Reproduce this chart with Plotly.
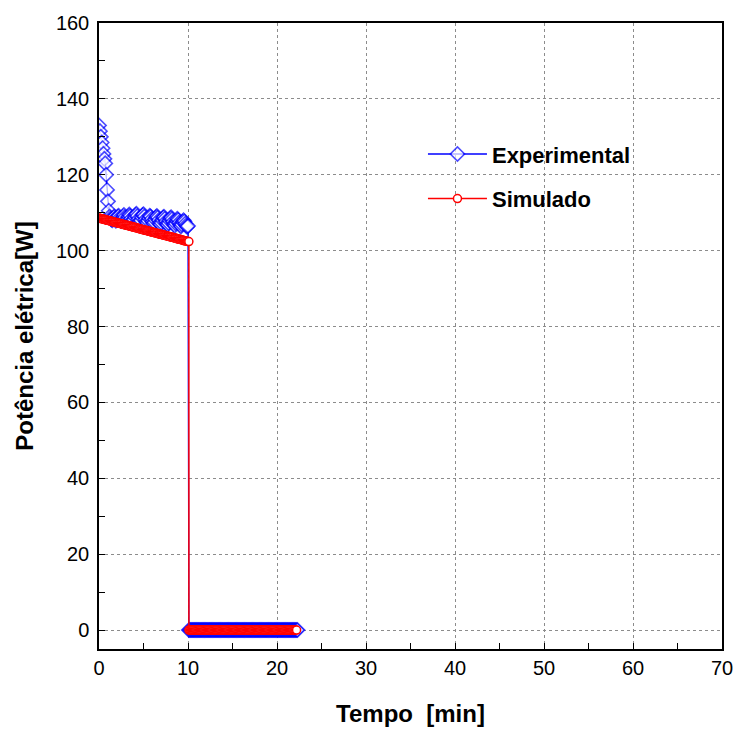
import plotly.graph_objects as go

# ---------------- data ----------------
# Experimental: initial decay (t = 0.0 .. 1.2, step 0.1)
exp_decay = [133.0, 131.5, 130.0, 128.5, 127.0, 125.5, 124.2, 123.0, 120.0,
             116.0, 113.0, 110.5, 109.0]
# Experimental: plateau (t = 1.3 .. 10.0, step 0.1)
exp_plateau = [108.5, 108.2, 108.0, 108.6, 109.0, 108.4, 107.9, 108.3, 108.9, 109.2,
               108.6, 108.0, 107.8, 108.4, 109.0, 109.4, 108.8, 108.1, 107.7, 108.3,
               109.0, 109.5, 109.1, 108.4, 107.8, 107.5, 108.2, 108.9, 109.4, 109.7,
               109.1, 108.3, 107.7, 107.4, 108.0, 108.8, 109.4, 109.6, 109.0, 108.2,
               107.6, 107.3, 107.9, 108.6, 109.2, 109.0, 108.3, 107.6, 107.1, 107.5,
               108.2, 108.8, 109.1, 108.7, 108.0, 107.3, 106.9, 107.4, 108.1, 108.7,
               108.9, 108.4, 107.7, 107.1, 106.8, 107.3, 108.0, 108.5, 108.8, 108.3,
               107.6, 107.0, 106.6, 107.2, 107.9, 108.4, 108.1, 107.4, 106.8, 106.4,
               106.9, 107.6, 108.0, 107.7, 107.1, 106.6, 106.3, 106.5]
# transition sample during switch-off (drawn as line only)
exp_transition_t = 10.05
exp_transition_y = 54.0
exp_off_start = 10.1   # heater switched off
exp_off_end = 22.3

# Simulated: t = 0.0 .. 10.1, step 0.1
sim_on = [108.6, 108.5, 108.5, 108.4, 108.4, 108.3, 108.2, 108.2, 108.1, 108.0,
          108.0, 107.9, 107.9, 107.8, 107.7, 107.7, 107.6, 107.5, 107.5, 107.4,
          107.4, 107.3, 107.2, 107.2, 107.1, 107.1, 107.0, 106.9, 106.9, 106.8,
          106.7, 106.7, 106.6, 106.6, 106.5, 106.4, 106.4, 106.3, 106.2, 106.2,
          106.1, 106.1, 106.0, 105.9, 105.9, 105.8, 105.7, 105.7, 105.6, 105.6,
          105.5, 105.4, 105.4, 105.3, 105.3, 105.2, 105.1, 105.1, 105.0, 104.9,
          104.9, 104.8, 104.8, 104.7, 104.6, 104.6, 104.5, 104.4, 104.4, 104.3,
          104.3, 104.2, 104.1, 104.1, 104.0, 104.0, 103.9, 103.8, 103.8, 103.7,
          103.6, 103.6, 103.5, 103.5, 103.4, 103.3, 103.3, 103.2, 103.1, 103.1,
          103.0, 103.0, 102.9, 102.8, 102.8, 102.7, 102.6, 102.6, 102.5, 102.5,
          102.4, 102.4]
sim_off_start = 10.1
sim_off_end = 22.2

x_ticks = [0, 10, 20, 30, 40, 50, 60, 70]
y_ticks = [0, 20, 40, 60, 80, 100, 120, 140, 160]

# ---------------- build series ----------------
exp_on = exp_decay + exp_plateau
exp_t = [round(i * 0.1, 1) for i in range(len(exp_on))]
exp_sizes = [11] * len(exp_on)
exp_t.append(exp_transition_t)
exp_y = exp_on + [exp_transition_y]
exp_sizes.append(0)
n_exp_off = int(round((exp_off_end - exp_off_start) / 0.1)) + 1
exp_t += [round(exp_off_start + i * 0.1, 1) for i in range(n_exp_off)]
exp_y += [0.0] * n_exp_off
exp_sizes += [11] * n_exp_off

sim_t = [round(i * 0.1, 1) for i in range(len(sim_on))]
n_sim_off = int(round((sim_off_end - sim_off_start) / 0.1)) + 1
sim_t += [round(sim_off_start + i * 0.1, 1) for i in range(n_sim_off)]
sim_y = sim_on + [0.0] * n_sim_off

fig = go.Figure()
fig.add_trace(go.Scatter(
    x=exp_t, y=exp_y, mode="lines+markers", name="Experimental",
    legendgroup="a",
    line=dict(color="#0000ff", width=1.3),
    marker=dict(symbol="diamond", size=exp_sizes, color="white",
                line=dict(color="#0000ff", width=1.6)),
))
fig.add_trace(go.Scatter(
    x=sim_t, y=sim_y, mode="lines+markers", name="Simulado",
    legendgroup="b",
    line=dict(color="#ff0000", width=1.5),
    marker=dict(symbol="circle", size=8, color="white",
                line=dict(color="#ff0000", width=1.5)),
))

font_family = "Arial, Liberation Sans, sans-serif"
fig.update_layout(
    width=739, height=731,
    margin=dict(l=99, r=17, t=23, b=82, autoexpand=False),
    paper_bgcolor="white", plot_bgcolor="white",
    font=dict(family=font_family, color="black", size=20),
    legend=dict(
        x=0.52, y=0.824, xanchor="left", yanchor="top",
        bgcolor="rgba(0,0,0,0)",
        font=dict(family=font_family, size=22, color="black", weight="bold"),
        tracegroupgap=13, itemwidth=59,
    ),
    showlegend=True,
)
axis_common = dict(
    showline=True, linecolor="black", linewidth=1.5, mirror=True,
    showgrid=True, gridcolor="#8c8c8c", griddash="dot", gridwidth=1,
    zeroline=False, automargin=False,
    ticks="inside", ticklen=6, tickcolor="black",
    tickfont=dict(family=font_family, size=20, color="black"),
)
fig.update_xaxes(
    range=[0, 70], tickvals=x_ticks, ticktext=[str(v) for v in x_ticks],
    minor=dict(dtick=5, ticks="inside", ticklen=6, tickcolor="black", showgrid=False),
    title=dict(text="Tempo  [min]", standoff=27,
               font=dict(family=font_family, size=24, color="black", weight="bold")),
    **axis_common,
)
fig.update_yaxes(
    range=[-5, 160], tickvals=y_ticks, ticktext=[str(v) for v in y_ticks],
    minor=dict(dtick=10, ticks="inside", ticklen=6, tickcolor="black", showgrid=False),
    ticklabelstandoff=4,
    title=dict(text="Potência elétrica[W]", standoff=15,
               font=dict(family=font_family, size=24, color="black", weight="bold")),
    **axis_common,
)

fig.write_html(
    "out.html",
    config={"displayModeBar": False},
    post_script="document.body.style.margin='0';document.body.style.overflow='hidden';",
)
